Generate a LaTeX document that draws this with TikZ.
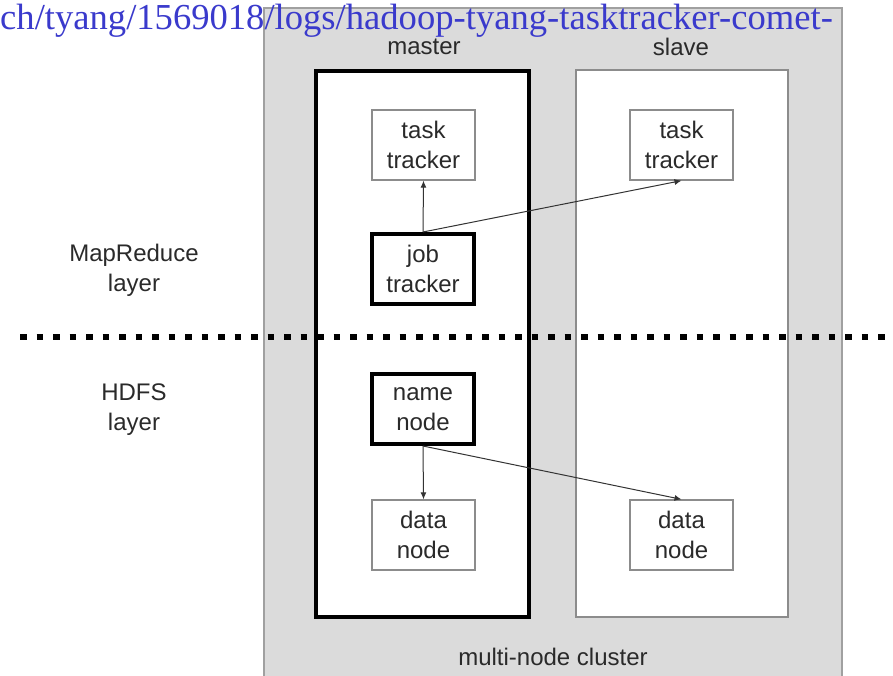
\documentclass[tikz,border=0pt]{standalone}
\usepackage{fontspec}
\setmainfont{Liberation Sans}
\newfontfamily\urlfont{Liberation Serif}
\usetikzlibrary{arrows.meta}
\definecolor{clusterfill}{HTML}{DBDBDB}
\definecolor{clusterline}{HTML}{A0A0A0}
\definecolor{boxline}{HTML}{8C8C8C}
\definecolor{labeltext}{HTML}{2A2A2A}
\definecolor{linkblue}{HTML}{3A3ACC}
\tikzset{
  lbl/.style={font=\fontsize{24}{30}\selectfont, text=labeltext, align=center, inner sep=0pt},
  plainbox/.style={lbl, draw=boxline, line width=1.3pt, fill=white,
    minimum width=103pt, minimum height=70pt},
  mainbox/.style={lbl, draw=black, line width=4pt, fill=white,
    minimum width=102pt, minimum height=70pt},
  link/.style={draw=black!80, line width=1pt, -{Latex[length=7pt,width=6pt]}}
}
\begin{document}
\begin{tikzpicture}[x=1pt,y=-1pt]
\useasboundingbox (0,0) rectangle (893,676);
\clip (0,0) rectangle (893,676);

% cluster frame
\fill[clusterfill, draw=clusterline, line width=2pt] (264,8) rectangle (842,700);
\node[lbl] (cluster) at (553,657) {multi-node cluster};

% machines
\draw[fill=white, draw=black, line width=4pt] (316,71) rectangle (529,617);
\draw[fill=white, draw=boxline, line width=1.5pt] (576,70) rectangle (788,617);
\node[lbl] (master) at (424,47) {master};
\node[lbl] (slave) at (681,47) {slave};

% layer separator
\draw[line width=6.5pt, dash pattern=on 6.5pt off 10pt] (20,337) -- (893,337);
\node[lbl] (mrlayer) at (134,270) {MapReduce\\layer};
\node[lbl] (hdfslayer) at (134,410) {HDFS\\layer};

% daemons
\node[plainbox] (ttm) at (423.5,145) {task\\tracker};
\node[plainbox] (tts) at (681.5,145) {task\\tracker};
\node[mainbox] (jt) at (423,269) {job\\tracker};
\node[mainbox] (nn) at (423,409) {name\\node};
\node[plainbox] (dnm) at (423.5,535) {data\\node};
\node[plainbox] (dns) at (681.5,535) {data\\node};

% control links
\draw[link] (jt.north) -- (ttm.south);
\draw[link] (jt.north) -- (tts.south);
\draw[link] (nn.south) -- (dnm.north);
\draw[link] (nn.south) -- (dns.north);

% log path overlaid at the top
\node[font=\urlfont\fontsize{36.6}{40}\selectfont, text=linkblue, anchor=base west, inner sep=0pt]
  (logpath) at (0,30) {ch/tyang/1569018/logs/hadoop-tyang-tasktracker-comet-};
\end{tikzpicture}
\end{document}
